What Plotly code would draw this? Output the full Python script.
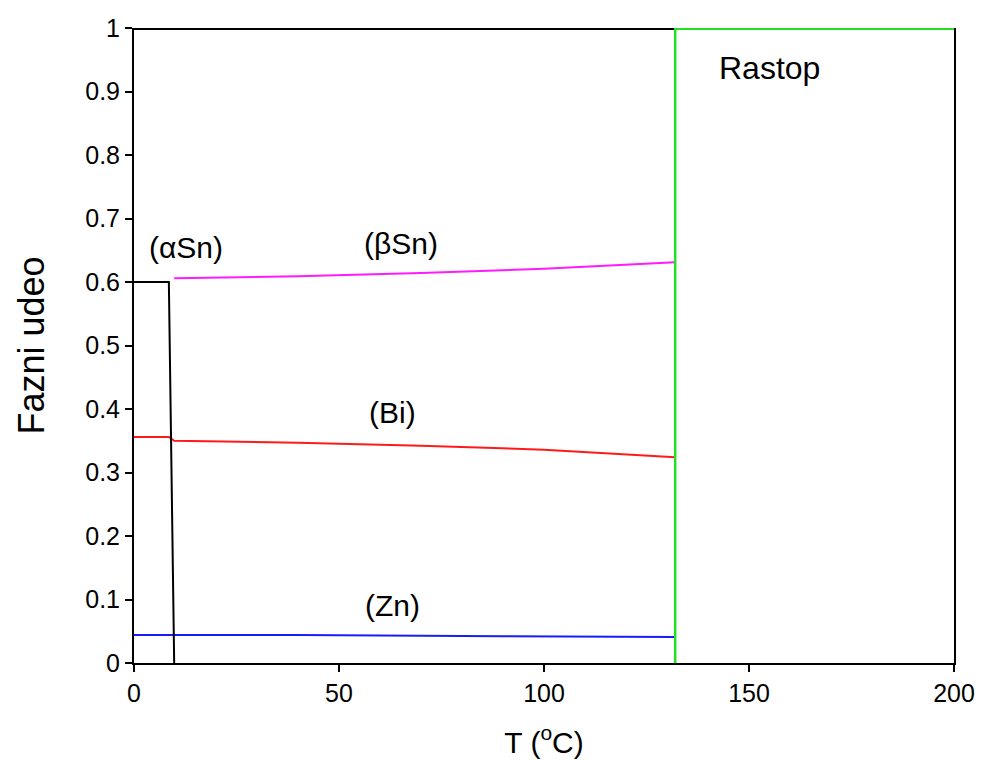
import plotly.graph_objects as go

# Data
T_melt = 132.0
aSn_T = [0, 8.5, 9.8]
aSn_f = [0.600, 0.600, 0.0]
bSn_T = [9.8, 40, 70, 100, 132]
bSn_f = [0.606, 0.609, 0.614, 0.621, 0.631]
Bi_T = [0, 8.5, 9.8, 40, 70, 100, 132]
Bi_f = [0.356, 0.356, 0.350, 0.347, 0.342, 0.336, 0.324]
Zn_T = [0, 40, 90, 132]
Zn_f = [0.044, 0.044, 0.042, 0.041]
melt_T = [T_melt, T_melt, 200]
melt_f = [0, 1, 1]
top_T = [0, T_melt]
top_f = [1, 1]

labels = ["(αSn)", "(βSn)", "(Bi)", "(Zn)", "Rastop"]
label_x = [12.7, 65, 63, 63, 155]
label_y = [0.655, 0.661, 0.395, 0.091, 0.937]
label_size = [30, 30, 30, 30, 32]

x_ticks = [0, 50, 100, 150, 200]
y_ticks = [0, 0.1, 0.2, 0.3, 0.4, 0.5, 0.6, 0.7, 0.8, 0.9, 1]
y_ticktext = ["0", "0.1", "0.2", "0.3", "0.4", "0.5", "0.6", "0.7", "0.8", "0.9", "1"]

FONT = "Liberation Sans, Arial, sans-serif"

fig = go.Figure()
fig.add_trace(go.Scatter(x=top_T, y=top_f, mode="lines", line=dict(color="black", width=4)))
fig.add_trace(go.Scatter(x=Zn_T, y=Zn_f, mode="lines", line=dict(color="#1a1aff", width=2)))
fig.add_trace(go.Scatter(x=Bi_T, y=Bi_f, mode="lines", line=dict(color="#ff1a1a", width=2)))
fig.add_trace(go.Scatter(x=bSn_T, y=bSn_f, mode="lines", line=dict(color="#ff1aff", width=2)))
fig.add_trace(go.Scatter(x=aSn_T, y=aSn_f, mode="lines", line=dict(color="black", width=2)))
fig.add_trace(go.Scatter(x=melt_T, y=melt_f, mode="lines", line=dict(color="#22e022", width=2.5)))
# top edge of green segment (half clipped -> thicker)
fig.add_trace(go.Scatter(x=melt_T[1:], y=melt_f[1:], mode="lines", line=dict(color="#22e022", width=4)))

for t, x, y, s in zip(labels, label_x, label_y, label_size):
    fig.add_annotation(x=x, y=y, text=t, showarrow=False,
                       font=dict(family=FONT, size=s, color="black"))

fig.update_layout(
    width=981, height=760,
    margin=dict(l=134, r=27, t=28, b=97),
    paper_bgcolor="white", plot_bgcolor="white",
    showlegend=False,
    font=dict(family=FONT, color="black"),
)
fig.update_xaxes(
    range=[0, 200], tickvals=x_ticks,
    showgrid=False, zeroline=False, automargin=False,
    showline=True, linecolor="black", linewidth=2, mirror=False,
    ticks="outside", ticklen=7, tickwidth=2, tickcolor="black",
    tickfont=dict(family=FONT, size=25, color="black"),
    title=dict(text="T (<sup>o</sup>C)", font=dict(family=FONT, size=30, color="black"), standoff=26),
)
fig.update_yaxes(
    range=[0, 1], tickvals=y_ticks, ticktext=y_ticktext,
    showgrid=False, zeroline=False, automargin=False,
    showline=True, linecolor="black", linewidth=2, mirror=True,
    ticks="outside", ticklen=7, tickwidth=2, tickcolor="black",
    tickfont=dict(family=FONT, size=25, color="black"),
    title=dict(text="Fazni udeo", font=dict(family=FONT, size=36, color="black"), standoff=30),
)

fig.write_html("out.html", config={"displayModeBar": False},
               post_script="document.body.style.margin='0';document.body.style.overflow='hidden';")
